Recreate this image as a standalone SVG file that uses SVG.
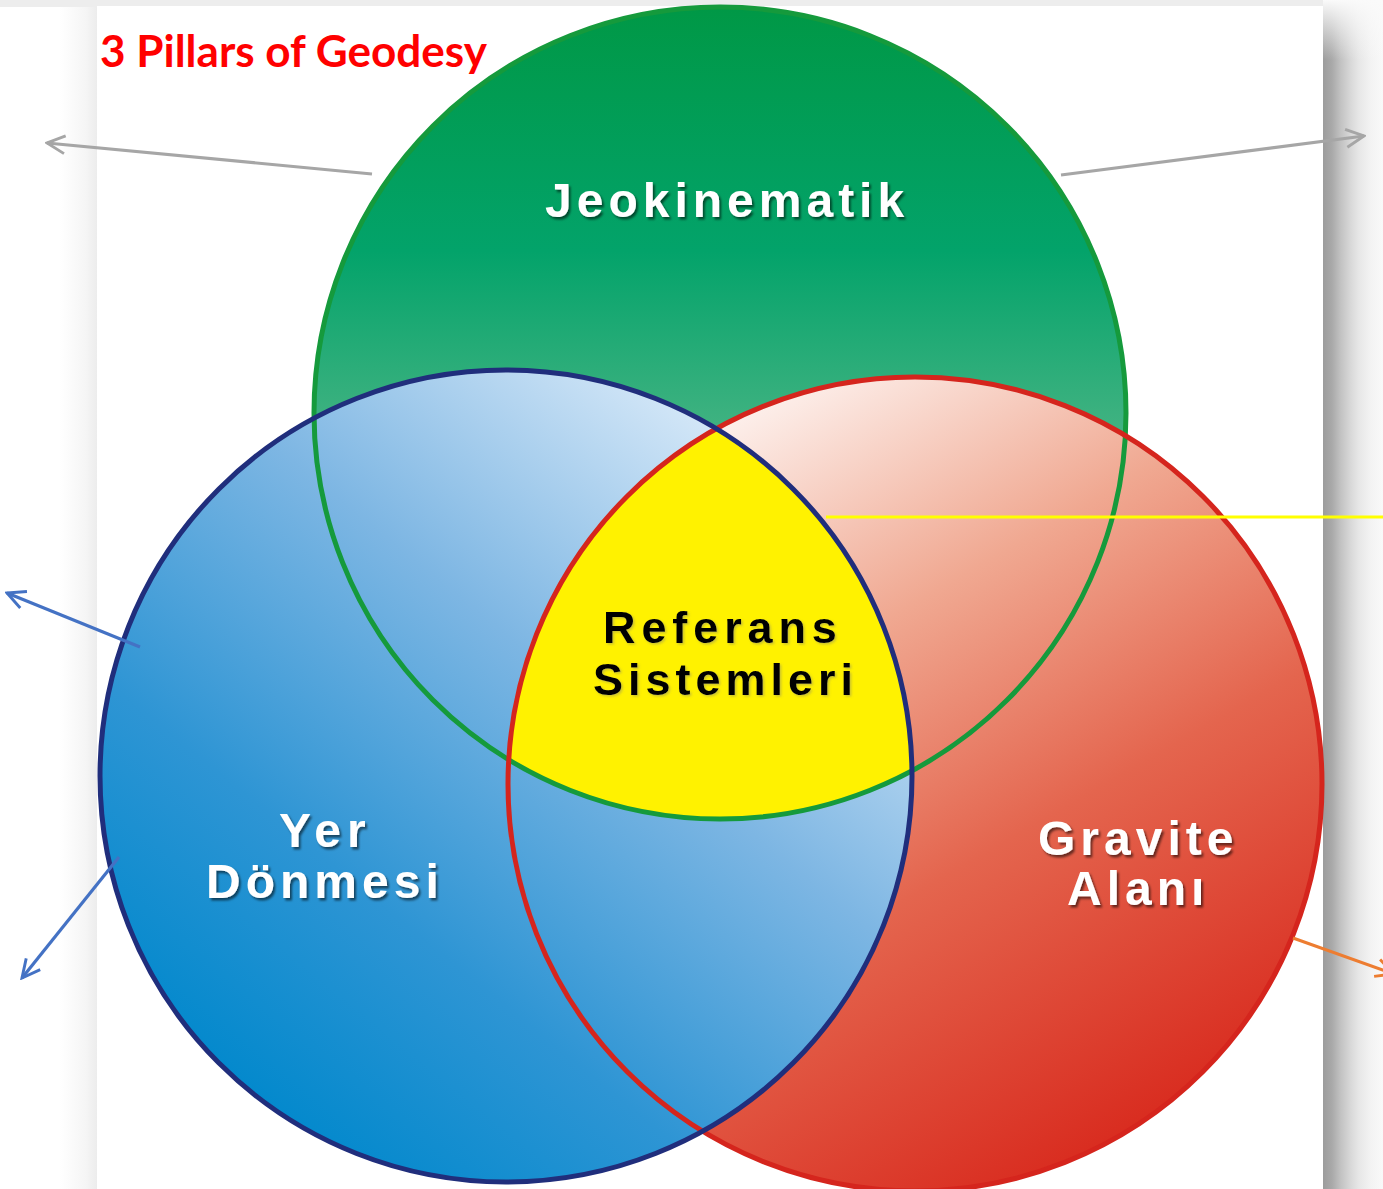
<svg xmlns="http://www.w3.org/2000/svg" width="1383" height="1189" viewBox="0 0 1383 1189">
<defs>
<linearGradient id="gGreen" x1="0" y1="8" x2="0" y2="818" gradientUnits="userSpaceOnUse">
<stop offset="0" stop-color="#009846"/>
<stop offset="0.3" stop-color="#03a36a"/>
<stop offset="0.5" stop-color="#3bb17f"/>
<stop offset="1" stop-color="#9ad6b6"/>
</linearGradient>
<linearGradient id="gBlue" x1="700" y1="420" x2="180" y2="1060" gradientUnits="userSpaceOnUse">
<stop offset="0" stop-color="#d2e6f7"/>
<stop offset="0.35" stop-color="#7db6e3"/>
<stop offset="0.7" stop-color="#2e95d4"/>
<stop offset="1" stop-color="#0088cc"/>
</linearGradient>
<linearGradient id="gRed" x1="760" y1="400" x2="1180" y2="1130" gradientUnits="userSpaceOnUse">
<stop offset="0" stop-color="#fdf0ec"/>
<stop offset="0.3" stop-color="#f0a891"/>
<stop offset="0.6" stop-color="#e4654e"/>
<stop offset="1" stop-color="#d8281c"/>
</linearGradient>
<linearGradient id="gShadowR" x1="1323" y1="0" x2="1383" y2="0" gradientUnits="userSpaceOnUse">
<stop offset="0" stop-color="#9c9c9c"/>
<stop offset="0.15" stop-color="#a9a9a9"/>
<stop offset="0.3" stop-color="#c3c3c3"/>
<stop offset="0.45" stop-color="#d7d7d7"/>
<stop offset="0.6" stop-color="#e7e7e7"/>
<stop offset="0.8" stop-color="#f3f3f3"/>
<stop offset="1" stop-color="#f9f9f9"/>
</linearGradient>
<linearGradient id="gShadowTop" x1="0" y1="0" x2="0" y2="60" gradientUnits="userSpaceOnUse">
<stop offset="0" stop-color="#fafafa" stop-opacity="1"/>
<stop offset="1" stop-color="#fafafa" stop-opacity="0"/>
</linearGradient>
<linearGradient id="gShadowL" x1="60" y1="0" x2="97" y2="0" gradientUnits="userSpaceOnUse">
<stop offset="0" stop-color="#ffffff"/>
<stop offset="0.7" stop-color="#f5f5f5"/>
<stop offset="1" stop-color="#ececec"/>
</linearGradient>
<clipPath id="cBlue"><circle cx="506" cy="776" r="406"/></clipPath>
<clipPath id="cRed"><circle cx="915" cy="784" r="407"/></clipPath>
<filter id="txtShadow" x="-10%" y="-30%" width="120%" height="160%">
<feDropShadow dx="2" dy="2.5" stdDeviation="1.2" flood-color="#000" flood-opacity="0.55"/>
</filter>
<filter id="txtShadowLight" x="-10%" y="-30%" width="120%" height="160%">
<feDropShadow dx="1.5" dy="1.5" stdDeviation="1" flood-color="#777" flood-opacity="0.4"/>
</filter>
<marker id="mGray" viewBox="0 0 10 10" refX="9" refY="5" markerWidth="7" markerHeight="7" orient="auto" markerUnits="strokeWidth">
<path d="M1,1 L9,5 L1,9" fill="none" stroke="#a6a6a6" stroke-width="1.3"/>
</marker>
<marker id="mBlue" viewBox="0 0 10 10" refX="9" refY="5" markerWidth="7" markerHeight="7" orient="auto" markerUnits="strokeWidth">
<path d="M1,1 L9,5 L1,9" fill="none" stroke="#4472c4" stroke-width="1.3"/>
</marker>
<marker id="mOrange" viewBox="0 0 10 10" refX="9" refY="5" markerWidth="7" markerHeight="7" orient="auto" markerUnits="strokeWidth">
<path d="M1,1 L9,5 L1,9" fill="none" stroke="#ed7d31" stroke-width="1.3"/>
</marker>
<style>
.lbl{font-family:"Liberation Sans",Arial,sans-serif;font-weight:bold;font-size:48px;}
.mid{font-size:45px;}
.white{fill:#ffffff;filter:url(#txtShadow);}
.black{fill:#000000;}
.ring{fill:none;stroke-width:5;}
.conn{fill:none;stroke-width:3.2;}
</style>
</defs>

<g id="background">
<rect x="0" y="0" width="1383" height="1189" fill="#ffffff"/>
<rect x="60" y="0" width="37" height="1189" fill="url(#gShadowL)"/>
<rect x="0" y="0" width="1383" height="7" fill="#ededed"/>
<rect x="1323" y="0" width="60" height="1189" fill="url(#gShadowR)"/>
<rect x="1323" y="0" width="60" height="60" fill="url(#gShadowTop)"/>
<rect x="97" y="6" width="1226" height="1183" fill="#ffffff"/>
</g>

<g id="title">
<text x="100" y="67" font-family="Lato,'Open Sans',sans-serif" font-weight="bold" font-size="43" fill="#ff0000" textLength="387" lengthAdjust="spacingAndGlyphs">3 Pillars of Geodesy</text>
</g>

<g id="node-jeokinematik">
<circle cx="720" cy="413" r="406" fill="url(#gGreen)"/>
</g>
<g id="node-gravite">
<circle cx="915" cy="784" r="407" fill="url(#gRed)"/>
</g>
<g id="node-yer">
<circle cx="506" cy="776" r="406" fill="url(#gBlue)"/>
</g>
<g id="node-referans">
<g clip-path="url(#cRed)">
<circle cx="720" cy="413" r="406" fill="#fff200" clip-path="url(#cBlue)"/>
</g>
</g>

<g id="rings">
<circle class="ring" cx="720" cy="413" r="406" stroke="#159a3c"/>
<circle class="ring" cx="915" cy="784" r="407" stroke="#d5251d"/>
<circle class="ring" cx="506" cy="776" r="406" stroke="#202e7c"/>
</g>

<g id="labels">
<text class="lbl white" x="545" y="217" letter-spacing="5">Jeokinematik</text>
<text class="lbl mid black" x="603" y="643" letter-spacing="5.9" filter="url(#txtShadowLight)">Referans</text>
<text class="lbl mid black" x="593" y="695" letter-spacing="5" filter="url(#txtShadowLight)">Sistemleri</text>
<text class="lbl white" x="279" y="847" letter-spacing="6">Yer</text>
<text class="lbl white" x="206" y="898" letter-spacing="5">Dönmesi</text>
<text class="lbl white" x="1038" y="855" letter-spacing="5">Gravite</text>
<text class="lbl white" x="1067" y="905" letter-spacing="5">Alanı</text>
</g>

<g id="connectors">
<line class="conn" x1="372" y1="174" x2="47" y2="143" stroke="#a6a6a6" marker-end="url(#mGray)"/>
<line class="conn" x1="1061" y1="175" x2="1364" y2="136" stroke="#a6a6a6" marker-end="url(#mGray)"/>
<line class="conn" x1="140" y1="647" x2="7" y2="593" stroke="#4472c4" marker-end="url(#mBlue)"/>
<line class="conn" x1="119" y1="857" x2="22" y2="978" stroke="#4472c4" marker-end="url(#mBlue)"/>
<line class="conn" x1="826" y1="517" x2="1383" y2="517" stroke="#ffff00"/>
<line class="conn" x1="1293" y1="938" x2="1394" y2="974" stroke="#ed7d31" marker-end="url(#mOrange)"/>
</g>
</svg>
